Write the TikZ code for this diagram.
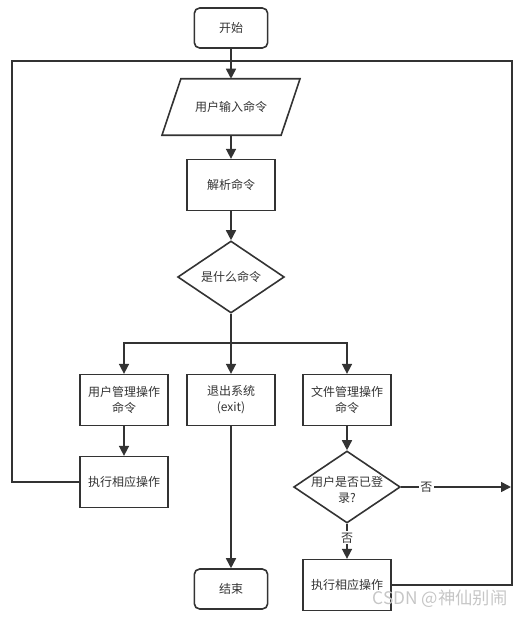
\documentclass[tikz,border=0pt]{standalone}
\usepackage{fontspec}
\setmainfont{Noto Sans CJK SC}
\usetikzlibrary{arrows.meta,shapes.geometric}
\definecolor{ink}{HTML}{333333}
\tikzset{
  box/.style={draw=ink, line width=1.2pt, minimum width=66pt, minimum height=38pt,
    align=center, inner sep=1pt, text=ink},
  term/.style={box, rounded corners=4pt, minimum width=55pt, minimum height=30pt},
  io/.style={text=ink, minimum width=89pt, minimum height=42pt, inner sep=0pt},
  choice/.style={box, diamond, minimum width=80pt, minimum height=54pt, inner sep=0pt},
  arr/.style={draw=ink, line width=1.2pt, -{Triangle[length=7.5pt,width=7.5pt]}},
  ln/.style={draw=ink, line width=1.2pt},
  lbl/.style={fill=white, text=ink, inner sep=1pt}
}
\begin{document}
\begin{tikzpicture}[x=0.75pt, y=-0.75pt, font=\fontsize{9pt}{12pt}\selectfont]
  \useasboundingbox (0,0) rectangle (523,617);
  % --- columns (px): change to taste
  \def\colL{124}   % left column
  \def\colM{231}   % middle column
  \def\colR{347}   % right column
  \def\slant{7.1pt} % half the slant of the input box

  %---------------------------------------
  % main line
  \node[term]   (start)  at (\colM,28)  {开始};
  \node[io]     (input)  at (\colM,107) {用户输入命令};
  \draw[ln] ([xshift=\slant]input.north west) -- ([xshift=\slant]input.north east)
    -- ([xshift=-\slant]input.south east) -- ([xshift=-\slant]input.south west) -- cycle;
  \node[box]    (parse)  at (\colM,185) {解析命令};
  \node[choice] (which)  at (\colM,277) {是什么命令};

  % three branches
  \node[box] (usercmd) at (\colL,400) {用户管理操作\\命令};
  \node[box] (exit)    at (\colM,400) {退出系统\\(exit)};
  \node[box] (filecmd) at (\colR,400) {文件管理操作\\命令};

  \node[box]    (userop) at (\colL,482) {执行相应操作};
  \node[choice] (login)  at (\colR,487) {};
  \node[text=ink, align=center, inner sep=0pt] (logintxt) at (\colR,490) {用户是否已登\\录?};
  \node[box]    (fileop) at (\colR,585) {执行相应操作};
  \node[term]   (end)    at (\colM,589) {结束};

  % points for the loops
  \coordinate (join)  at (\colM,61);
  \coordinate (lft)   at (12,61);
  \coordinate (rgt)   at (512,61);
  \coordinate (split) at (\colM,343);
  \coordinate (hit)   at (511,487);

  %---------------------------------------
  % connectors
  \draw[arr] (start) -- (input);
  \draw[arr] (input) -- (parse);
  \draw[arr] (parse) -- (which);
  \draw[arr] (which) -- (exit);
  \draw[arr] (split) -| (usercmd);
  \draw[arr] (split) -| (filecmd);
  \draw[arr] (usercmd) -- (userop);
  \draw[arr] (exit) -- (end);
  \draw[arr] (filecmd) -- (login);
  \draw[arr] (login) -- node[lbl, pos=0.4] {否} (fileop);
  \draw[arr] (login.east) -- node[lbl, pos=0.23] {否} (hit);

  % back to the input
  \draw[ln] (userop.west) -| (lft) -- (join);
  \draw[ln] (fileop.east) -| (rgt) -- (join);

  % watermark
  \node[text=gray!45, font=\fontsize{13pt}{15pt}\selectfont, inner sep=0pt] (mark)
    at (440,599) {CSDN @神仙别闹};
\end{tikzpicture}
\end{document}
